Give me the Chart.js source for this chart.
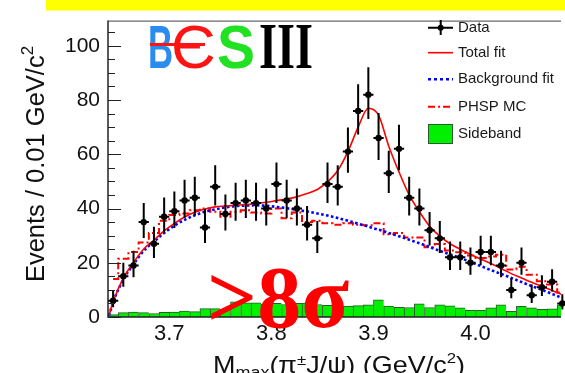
<!DOCTYPE html>
<html>
<head>
<meta charset="utf-8">
<script src="https://cdn.jsdelivr.net/npm/chart.js@4.4.1/dist/chart.umd.min.js"></script>
<style>
  html, body { margin: 0; padding: 0; background: #fff; }
  #c { display: block; }
</style>
</head>
<body>
<canvas id="c" width="565" height="373"></canvas>
<script>
// bin centres, 0.01 GeV/c^2 wide
const binCenters = [3.645, 3.655, 3.665, 3.675, 3.685, 3.695, 3.705, 3.715, 3.725, 3.735,
  3.745, 3.755, 3.765, 3.775, 3.785, 3.795, 3.805, 3.815, 3.825, 3.835,
  3.845, 3.855, 3.865, 3.875, 3.885, 3.895, 3.905, 3.915, 3.925, 3.935,
  3.945, 3.955, 3.965, 3.975, 3.985, 3.995, 4.005, 4.015, 4.025, 4.035,
  4.045, 4.055, 4.065, 4.075, 4.085];
const dataCounts = [6, 15, 19, 35, 27, 37, 39, 43, 44, 33, 48, 38, 42, 43, 42, 40, 49, 43, 40, 34,
  29, 49, 48, 61, 76, 82, 66, 53, 62, 44, 40, 32, 29, 22, 22, 20, 24, 24, 19, 10,
  20, 8, 11, 13, 5];
const errUp = [3.6, 5.0, 5.4, 7.0, 6.3, 7.1, 7.3, 7.6, 7.7, 6.8, 8.0, 7.2, 7.5, 7.6, 7.5, 7.4, 8.0, 7.6, 7.4, 6.9,
  6.4, 8.0, 8.0, 8.9, 9.8, 10.1, 9.2, 8.3, 8.9, 7.7, 7.4, 6.7, 6.4, 5.8, 5.8, 5.6, 6.0, 6.0, 5.4, 4.3,
  5.6, 4.0, 4.4, 4.6, 3.4];
const errDown = [2.4, 3.8, 4.3, 5.9, 5.2, 6.1, 6.2, 6.5, 6.6, 5.7, 6.9, 6.1, 6.5, 6.5, 6.5, 6.3, 7.0, 6.5, 6.3, 5.8,
  5.4, 7.0, 6.9, 7.8, 8.7, 9.0, 8.1, 7.3, 7.9, 6.6, 6.3, 5.6, 5.4, 4.7, 4.7, 4.4, 4.9, 4.9, 4.3, 3.1,
  4.4, 2.8, 3.3, 3.6, 2.2];

// fit curves, read at the axis start and at each bin centre
const fitX = [3.641, 3.645, 3.655, 3.665, 3.675, 3.685, 3.695, 3.705, 3.715, 3.725, 3.735,
  3.745, 3.755, 3.765, 3.775, 3.785, 3.795, 3.805, 3.815, 3.825, 3.835,
  3.845, 3.855, 3.865, 3.875, 3.885, 3.895, 3.905, 3.915, 3.925, 3.935,
  3.945, 3.955, 3.965, 3.975, 3.985, 3.995, 4.005, 4.015, 4.025, 4.035,
  4.045, 4.055, 4.065, 4.075, 4.085];
const totalFit = [0.6, 5.6, 14.3, 20.1, 25.1, 28.3, 31.8, 34.5, 36.9, 38.6, 39.8,
  40.6, 40.9, 41.2, 41.5, 41.8, 42.3, 42.9, 43.5, 44.3, 45.5,
  47.0, 49.8, 54.0, 61.0, 70.0, 77.0, 74.4, 63.0, 53.5, 45.0,
  38.8, 33.5, 29.8, 27.0, 25.0, 23.1, 21.4, 19.7, 17.9, 16.0,
  14.4, 12.8, 11.3, 9.8, 8.2];
const backgroundFit = [0.5, 5.5, 13.8, 19.5, 24.4, 27.8, 31.0, 33.7, 35.8, 37.5, 38.8,
  39.7, 40.4, 40.9, 41.1, 41.2, 41.0, 40.6, 40.1, 39.5, 38.9,
  38.2, 37.4, 36.5, 35.5, 34.4, 33.3, 32.2, 31.0, 29.8, 28.5,
  27.2, 25.8, 24.4, 23.1, 21.8, 20.3, 18.8, 17.3, 15.9, 14.4,
  12.9, 11.4, 10.0, 8.5, 7.0];
const phspMC = [14, 21.5, 24, 27.5, 31, 35.5, 37.6, 38.2, 39.4, 40, 38.8, 37, 38.8, 39.4, 38.5, 38.2, 40, 36.4, 38.5, 35,
  35.5, 34.6, 34, 34.6, 34, 33.8, 34.6, 30.5, 31, 29.3, 29.3, 25.7, 26.9, 24.5, 23.9, 22.7, 21.8, 22.3, 23, 17.5,
  18.5, 15.6, 13.2, 12, 9];
const sideband = [0.9, 1.6, 1.8, 1.6, 1.3, 1.7, 1.8, 2.2, 2.0, 3.1, 3.1, 2.8, 5.6, 5.2, 5.2, 4.8, 5.0, 4.6, 5.0, 5.1,
  4.6, 4.3, 4.0, 4.0, 4.2, 4.5, 6.3, 4.0, 3.6, 3.5, 4.9, 3.5, 4.5, 4.1, 3.4, 2.5, 2.5, 3.4, 4.5, 2.1,
  3.9, 3.4, 2.8, 3.0, 4.5];

const xTicks = [3.7, 3.8, 3.9, 4.0];
const yTicks = [0, 20, 40, 60, 80, 100];
const yMinorStep = 5;
const binHalf = 0.005;

const SANS = '"Liberation Sans", Arial, Helvetica, sans-serif';
const SERIF = '"Liberation Serif", "Times New Roman", serif';
Chart.defaults.font.family = SANS;
Chart.defaults.color = '#111';

const pts = (xs, ys) => xs.map((v, i) => ({ x: v, y: ys[i] }));

// text made of pieces with their own size / vertical shift
function richWidth(ctx, parts) {
  let w = 0;
  parts.forEach(p => { ctx.font = p.size + 'px ' + SANS; w += ctx.measureText(p.t).width; });
  return w;
}
function drawRich(ctx, parts, x, y) {
  let cx = x;
  parts.forEach(p => {
    ctx.font = p.size + 'px ' + SANS;
    ctx.fillText(p.t, cx, y + (p.dy || 0));
    cx += ctx.measureText(p.t).width;
  });
}

const decor = {
  id: 'decor',
  afterDatasetsDraw(chart) {
    const { ctx, chartArea: a, scales: { x, y } } = chart;
    ctx.save();

    // error bars
    ctx.strokeStyle = '#000';
    ctx.lineWidth = 2;
    binCenters.forEach((v, i) => {
      const px = x.getPixelForValue(v);
      const py = y.getPixelForValue(dataCounts[i]);
      ctx.beginPath();
      ctx.moveTo(px, y.getPixelForValue(dataCounts[i] + errUp[i]));
      ctx.lineTo(px, y.getPixelForValue(dataCounts[i] - errDown[i]));
      ctx.moveTo(x.getPixelForValue(v - binHalf), py);
      ctx.lineTo(x.getPixelForValue(v + binHalf), py);
      ctx.stroke();
    });

    // frame and ticks
    ctx.strokeStyle = '#222';
    ctx.lineWidth = 1.5;
    ctx.beginPath();
    ctx.moveTo(a.left, a.top);
    ctx.lineTo(a.left, a.bottom);
    ctx.lineTo(a.right, a.bottom);
    ctx.stroke();
    ctx.lineWidth = 1;
    ctx.strokeStyle = '#444';
    ctx.beginPath();
    ctx.moveTo(a.left, a.top + 0.5);
    ctx.lineTo(a.right, a.top + 0.5);
    ctx.stroke();
    ctx.strokeStyle = '#222';
    ctx.beginPath();
    for (let v = 0; v <= y.max; v += yMinorStep) {
      const py = Math.round(y.getPixelForValue(v)) + 0.5;
      const len = yTicks.includes(v) ? 13 : 7;
      ctx.moveTo(a.left, py);
      ctx.lineTo(a.left + len, py);
    }
    ctx.stroke();

    ctx.restore();
  },
  afterDraw(chart) {
    const { ctx } = chart;
    ctx.save();

    // yellow band at the top
    ctx.fillStyle = '#ffff00';
    ctx.fillRect(46, 0, 519, 10.5);

    // legend
    const lx0 = 428, lx1 = 453, tx = 458;
    ctx.lineWidth = 2;
    ctx.strokeStyle = '#000';
    ctx.beginPath();
    ctx.moveTo(lx0, 27.7); ctx.lineTo(lx1, 27.7);
    ctx.moveTo(440.7, 20); ctx.lineTo(440.7, 35);
    ctx.stroke();
    ctx.fillStyle = '#000';
    ctx.beginPath(); ctx.arc(440.7, 27.7, 3, 0, Math.PI * 2); ctx.fill();

    ctx.strokeStyle = '#ff0000'; ctx.lineWidth = 1.6;
    ctx.beginPath(); ctx.moveTo(lx0, 52.7); ctx.lineTo(lx1, 52.7); ctx.stroke();

    ctx.strokeStyle = '#0000ff'; ctx.lineWidth = 2.6; ctx.setLineDash([3, 3]);
    ctx.beginPath(); ctx.moveTo(lx0, 79.3); ctx.lineTo(lx1, 79.3); ctx.stroke();

    ctx.strokeStyle = '#ff0000'; ctx.lineWidth = 2; ctx.setLineDash([7, 3, 2, 3]);
    ctx.beginPath(); ctx.moveTo(lx0, 106.7); ctx.lineTo(lx1, 106.7); ctx.stroke();
    ctx.setLineDash([]);

    ctx.fillStyle = '#00f000';
    ctx.fillRect(lx0, 124, lx1 - lx0, 20);
    ctx.strokeStyle = '#2d5a2d'; ctx.lineWidth = 1;
    ctx.strokeRect(lx0 + 0.5, 124.5, lx1 - lx0 - 1, 19);

    ctx.fillStyle = '#1a1a1a';
    ctx.font = '15px ' + SANS;
    ctx.textBaseline = 'middle';
    ctx.textAlign = 'left';
    [['Data', 27.7], ['Total fit', 52.7], ['Background fit', 79.3], ['PHSP MC', 106.7], ['Sideband', 134]]
      .forEach(([t, ly]) => ctx.fillText(t, tx, ly));

    // BESIII logo
    ctx.textBaseline = 'alphabetic';
    ctx.save();
    ctx.translate(148, 68); ctx.scale(0.56, 1);
    ctx.fillStyle = '#2b8cf0';
    ctx.font = 'bold 62px ' + SANS;
    ctx.fillText('B', 0, 0);
    ctx.restore();
    ctx.fillStyle = '#ff1414';
    ctx.fillRect(150, 43, 55, 3);
    ctx.save();
    ctx.translate(171, 68); ctx.scale(1.0, 1);
    ctx.fillStyle = '#ff1414';
    ctx.font = '62px ' + SANS;
    ctx.fillText('Є', 0, 0);
    ctx.restore();
    ctx.save();
    ctx.translate(217, 68); ctx.scale(0.92, 1);
    ctx.fillStyle = '#22e022';
    ctx.font = 'bold 62px ' + SANS;
    ctx.fillText('S', 0, 0);
    ctx.restore();
    ctx.save();
    ctx.translate(259, 68); ctx.scale(0.7, 1);
    ctx.fillStyle = '#000';
    ctx.font = 'bold 66px ' + SERIF;
    ctx.fillText('III', 0, 0);
    ctx.restore();

    // significance label
    ctx.fillStyle = '#ff0000';
    ctx.font = 'bold 88px ' + SERIF;
    ctx.fillText('>8σ', 207, 327);

    // axis titles
    ctx.fillStyle = '#111';
    const xt = [
      { t: 'M', size: 24 }, { t: 'max', size: 16, dy: 5 }, { t: '(π', size: 24 },
      { t: '±', size: 15, dy: -8 }, { t: 'J/ψ) (GeV/c', size: 24 }, { t: '2', size: 15, dy: -10 }, { t: ')', size: 24 }
    ];
    const xw = richWidth(ctx, xt);
    ctx.save();
    ctx.translate(339, 373);
    ctx.scale(252 / xw, 1);
    drawRich(ctx, xt, -xw / 2, 0);
    ctx.restore();

    const yt = [{ t: 'Events / 0.01 GeV/c', size: 25.5 }, { t: '2', size: 17, dy: -11 }];
    const yw = richWidth(ctx, yt);
    ctx.save();
    ctx.translate(44, 164);
    ctx.rotate(-Math.PI / 2);
    drawRich(ctx, yt, -yw / 2, 0);
    ctx.restore();

    ctx.restore();
  }
};

new Chart(document.getElementById('c'), {
  type: 'line',
  data: {
    datasets: [
      {
        label: 'Data',
        data: pts(binCenters, dataCounts),
        showLine: false,
        pointRadius: 3.2,
        pointBackgroundColor: '#000',
        pointBorderWidth: 0,
        clip: 6
      },
      {
        label: 'Total fit',
        data: pts(fitX, totalFit),
        borderColor: '#ff0000',
        borderWidth: 1.6,
        pointRadius: 0,
        cubicInterpolationMode: 'monotone'
      },
      {
        label: 'Background fit',
        data: pts(fitX, backgroundFit),
        borderColor: '#0000ff',
        borderWidth: 2.6,
        borderDash: [2.6, 2.4],
        pointRadius: 0,
        cubicInterpolationMode: 'monotone'
      },
      {
        label: 'PHSP MC',
        data: pts(binCenters, phspMC),
        borderColor: '#ff0000',
        borderWidth: 2,
        borderDash: [7, 3, 2, 3],
        pointRadius: 0,
        stepped: 'middle'
      },
      {
        type: 'bar',
        label: 'Sideband',
        data: pts(binCenters, sideband),
        backgroundColor: '#00f000',
        borderColor: '#2d5a2d',
        borderWidth: { top: 1, left: 1, right: 0, bottom: 0 },
        borderSkipped: false,
        barPercentage: 1,
        categoryPercentage: 1
      }
    ]
  },
  options: {
    responsive: false,
    animation: false,
    events: [],
    layout: { padding: { top: 11, left: 0, right: 0, bottom: 0 } },
    plugins: { legend: { display: false }, tooltip: { enabled: false } },
    scales: {
      x: {
        type: 'linear',
        min: 3.64,
        max: 4.0837,
        offset: false,
        grid: { display: false, drawTicks: false },
        border: { display: false },
        afterBuildTicks: s => { s.ticks = xTicks.map(v => ({ value: v })); },
        afterFit: s => { s.height = 56; },
        ticks: { font: { size: 22 }, color: '#111', padding: 4, maxRotation: 0, autoSkip: false,
          callback: v => Number(v).toFixed(1) }
      },
      y: {
        type: 'linear',
        min: 0,
        max: 109.3,
        grid: { display: false, drawTicks: false },
        border: { display: false },
        afterBuildTicks: s => { s.ticks = yTicks.map(v => ({ value: v })); },
        afterFit: s => { s.width = 108; },
        ticks: { font: { size: 21 }, color: '#111', padding: 8 }
      }
    }
  },
  plugins: [decor]
});
</script>
</body>
</html>
